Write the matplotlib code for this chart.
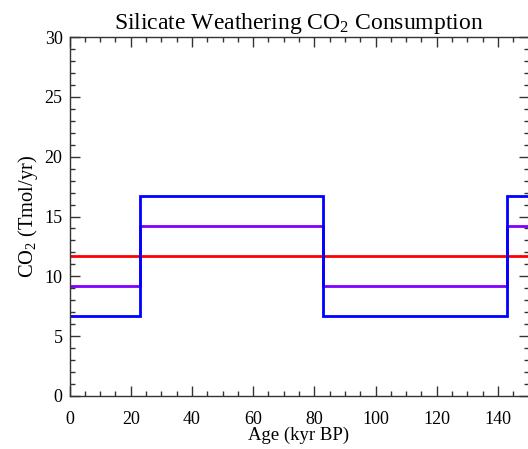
import matplotlib
matplotlib.use("Agg")
import matplotlib.pyplot as plt
from matplotlib.ticker import MultipleLocator

plt.rcParams['font.family'] = ['Liberation Serif', 'DejaVu Serif']
plt.rcParams['mathtext.fontset'] = 'custom'
plt.rcParams['mathtext.rm'] = 'Liberation Serif'
plt.rcParams['mathtext.it'] = 'Liberation Serif:italic'

# Data (step functions: value holds from edge[i] to edge[i+1])
edges = [0, 23, 83, 143, 150]
blue_vals = [6.7, 16.7, 6.7, 16.7]
purple_vals = [9.2, 14.2, 9.2, 14.2]
red_vals = [11.7, 11.7, 11.7, 11.7]

fig = plt.figure(figsize=(5.28, 4.49), dpi=100)
ax = fig.add_axes([69.5/528, 53/449, (528.5-69.5)/528, 359/449])

ax.stairs(red_vals, edges, color='#ff0000', linewidth=2, baseline=None)
ax.stairs(purple_vals, edges, color='#8000ff', linewidth=2, baseline=None)
ax.stairs(blue_vals, edges, color='#0000ff', linewidth=2, baseline=None)

ax.set_xlim(0, 150)
ax.set_ylim(0, 30)
ax.xaxis.set_major_locator(MultipleLocator(20))
ax.xaxis.set_minor_locator(MultipleLocator(5))
ax.yaxis.set_major_locator(MultipleLocator(5))
ax.yaxis.set_minor_locator(MultipleLocator(1))
ax.tick_params(which='both', direction='in', top=True, right=True, labelsize=13, color='#333333')
ax.tick_params(which='major', length=7, width=1)
ax.tick_params(which='minor', length=3.5, width=1)
ax.tick_params(axis='x', which='both', pad=10.5)
ax.tick_params(axis='y', which='both', pad=5)
for s in ax.spines.values():
    s.set_color('#333333')
    s.set_linewidth(1)

ax.set_title('Silicate Weathering CO$_\\mathrm{2}$ Consumption', fontsize=17, pad=6)
ax.set_xlabel('Age (kyr BP)', fontsize=13.5, labelpad=-0.5)
ax.set_ylabel('CO$_\\mathrm{2}$ (Tmol/yr)', fontsize=14.8, labelpad=3)

fig.savefig('out.png', dpi=100)
